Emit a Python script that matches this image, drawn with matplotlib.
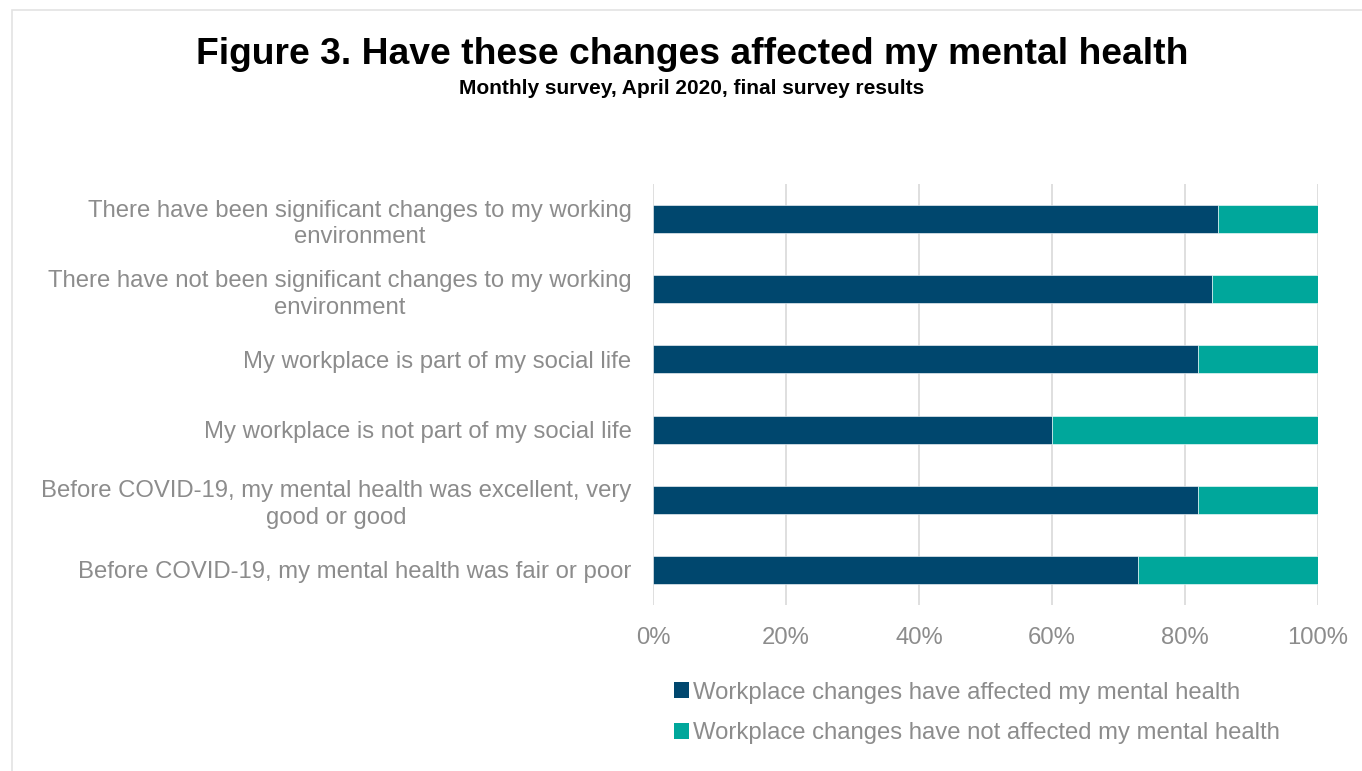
import matplotlib
matplotlib.use("Agg")
import matplotlib.pyplot as plt
from matplotlib.patches import Rectangle, Patch

plt.rcParams['font.family'] = ['Liberation Sans', 'DejaVu Sans']

categories = [
    "There have been significant changes to my working\nenvironment",
    "There have not been significant changes to my working\nenvironment",
    "My workplace is part of my social life",
    "My workplace is not part of my social life",
    "Before COVID-19, my mental health was excellent, very\ngood or good",
    "Before COVID-19, my mental health was fair or poor",
]
affected = [85, 84, 82, 60, 82, 73]
not_affected = [15, 16, 18, 40, 18, 27]
series_names = [
    "Workplace changes have affected my mental health",
    "Workplace changes have not affected my mental health",
]
x_ticks = [0, 20, 40, 60, 80, 100]
x_tick_labels = ["0%", "20%", "40%", "60%", "80%", "100%"]

DARK = "#00476E"
TEAL = "#00A79B"
GREY_TEXT = "#8C8C8C"
GRID = "#D9D9D9"
LABEL_SIZE = 17.2

W, H = 1362, 771
fig = plt.figure(figsize=(W / 100, H / 100), dpi=100)

# outer chart frame
fig.patches.append(Rectangle((12 / W, -0.05), 1.1, 1 - 10 / H + 0.05,
                             transform=fig.transFigure, fill=False,
                             edgecolor="#E3E3E3", linewidth=1.2))

ax = fig.add_axes([653 / W, 1 - 605 / H, (1318 - 653) / W, (605 - 184) / H])

y = list(range(len(categories)))
ax.barh(y, affected, height=0.4, color=DARK, edgecolor="white", linewidth=0.4,
        label=series_names[0], zorder=3)
ax.barh(y, not_affected, left=affected, height=0.4, color=TEAL,
        edgecolor="white", linewidth=0.4, label=series_names[1], zorder=3)

ax.set_ylim(len(categories) - 0.5, -0.5)
ax.set_xlim(0, 100)
ax.set_yticks(y)
ax.set_yticklabels(categories, fontsize=LABEL_SIZE, color=GREY_TEXT,
                   multialignment="center", linespacing=1.28)
ax.set_xticks(x_ticks)
ax.set_xticklabels(x_tick_labels, fontsize=LABEL_SIZE, color=GREY_TEXT)
ax.tick_params(axis="y", length=0, pad=15.5)
ax.tick_params(axis="x", length=0, pad=16)
for s in ax.spines.values():
    s.set_visible(False)
ax.grid(axis="x", color=GRID, linewidth=1.2, zorder=0)
ax.set_axisbelow(True)

fig.text(692 / W, 1 - 55 / H, "Figure 3. Have these changes affected my mental health",
         ha="center", va="center", fontsize=26.8, fontweight="bold", color="black")
fig.text(692 / W, 1 - 88 / H, "Monthly survey, April 2020, final survey results",
         ha="center", va="center", fontsize=15, fontweight="bold", color="black")

handles = [Patch(facecolor=DARK), Patch(facecolor=TEAL)]
leg = fig.legend(handles, series_names, loc="upper left",
                 bbox_to_anchor=(664 / W, 1 - 672 / H), frameon=False,
                 fontsize=LABEL_SIZE, handlelength=0.65, handleheight=0.65,
                 handletextpad=0.15, labelspacing=0.78, borderaxespad=0)
for t in leg.get_texts():
    t.set_color(GREY_TEXT)

fig.savefig("out.png", dpi=100, facecolor="white")
